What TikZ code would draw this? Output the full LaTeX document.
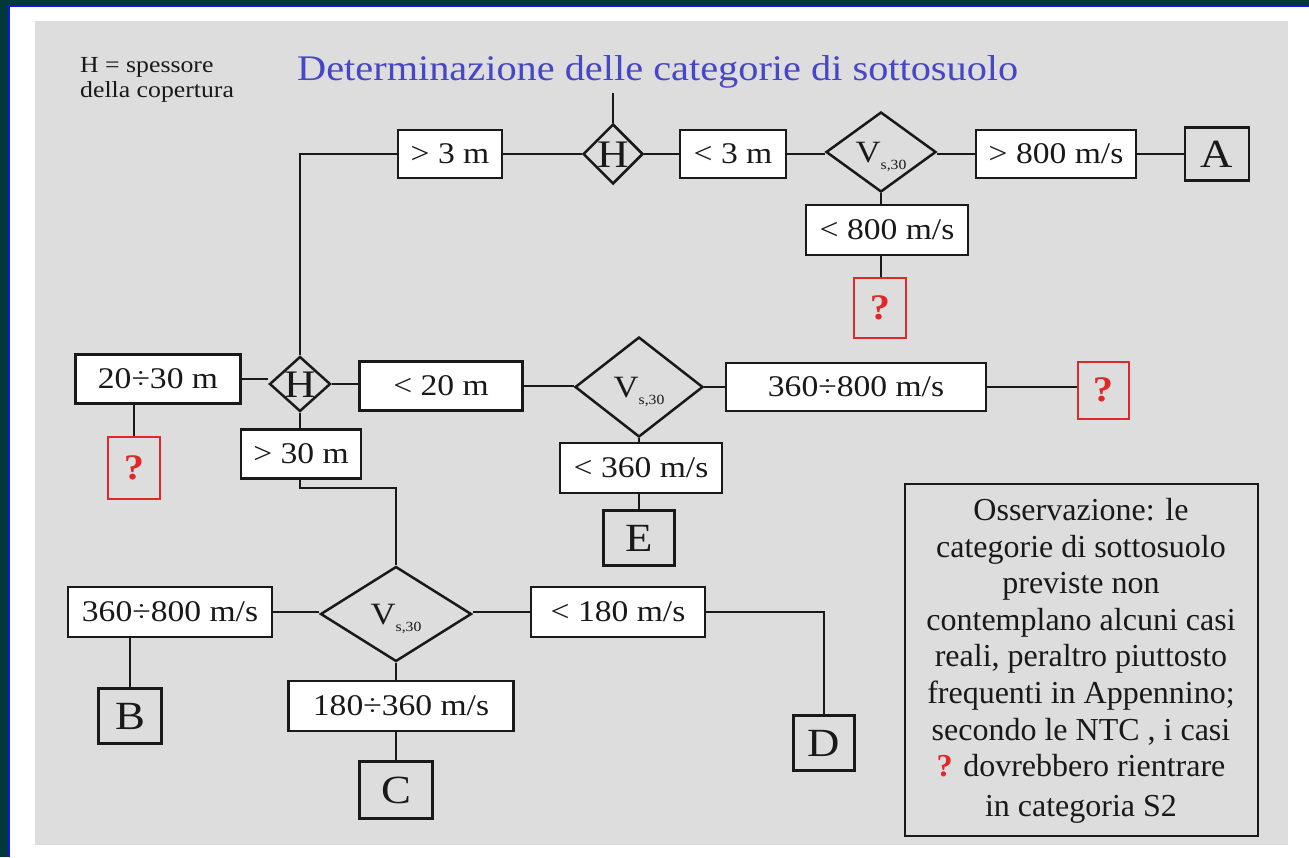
\documentclass[tikz,border=0pt]{standalone}
\usepackage{fontspec}
\setmainfont{Liberation Serif}[FakeStretch=1.12]
\newfontfamily\obsfont{Liberation Serif}
\usetikzlibrary{shapes.geometric}
\definecolor{panel}{RGB}{221,221,221}
\definecolor{frame}{RGB}{0,56,60}
\definecolor{frameblue}{RGB}{20,20,240}
\definecolor{ttl}{RGB}{70,70,200}
\definecolor{ink}{RGB}{25,25,25}
\definecolor{qred}{RGB}{225,40,40}
\newcommand{\vsth}{\smash{\makebox[0pt]{\raisebox{-10pt}{\fontsize{31}{31}\selectfont V\raisebox{-7pt}{\fontsize{14}{14}\selectfont s,30}}}}}
\newcommand{\hdia}{\smash{\makebox[0pt]{\raisebox{-13pt}{\fontsize{39}{39}\selectfont H}}}}
\tikzset{
  lbl/.style={draw=ink, fill=white, line width=2.2pt, inner sep=0pt, font=\fontsize{30}{36}\selectfont, text=ink},
  cat/.style={draw=ink, line width=2.2pt, inner sep=0pt, font=\fontsize{40}{44}\selectfont, text=ink},
  qbox/.style={draw=qred, line width=2pt, inner sep=0pt, font=\bfseries\fontsize{36}{40}\selectfont, text=qred},
  dia/.style={diamond, draw=ink, line width=2.5pt, inner sep=0pt, text=ink},
  wire/.style={draw=ink, line width=2.2pt},
}
\begin{document}
\begin{tikzpicture}[x=1pt,y=-1pt]
\useasboundingbox (0,0) rectangle (1309,857);
\fill[white] (0,0) rectangle (1309,857);
\fill[frame] (0,0) rectangle (1309,5.7);
\fill[frame] (0,0) rectangle (8.3,857);
\fill[frameblue] (8.3,5.7) rectangle (1309,7.3);
\fill[frameblue] (8.3,5.7) rectangle (10,857);
\fill[panel] (35,21) rectangle (1288,845);

% texts
\node[anchor=base west, inner sep=0pt, text=ttl, font=\fontsize{36}{40}\selectfont] (title) at (297,80) {Determinazione delle categorie di sottosuolo};
\node[anchor=base west, inner sep=0pt, text=ink, font=\fontsize{23}{26}\selectfont] (leg1) at (80,72) {H = spessore};
\node[anchor=base west, inner sep=0pt, text=ink, font=\fontsize{23}{26}\selectfont] (leg2) at (80,97) {della copertura};

% top row
\node[lbl, minimum width=104pt, minimum height=48pt] (gt3) at (450,154) {> 3 m};
\node[dia, minimum width=60pt, minimum height=60pt] (H1) at (613,154) {\hdia};
\node[lbl, minimum width=106pt, minimum height=48pt] (lt3) at (733,154) {< 3 m};
\node[dia, minimum width=110pt, minimum height=80pt] (V1) at (881,152) {\vsth};
\node[lbl, minimum width=160pt, minimum height=48pt] (gt800) at (1056,154) {> 800 m/s};
\node[cat, minimum width=64pt, minimum height=53pt] (A) at (1217,154) {A};
\node[lbl, minimum width=162pt, minimum height=50pt] (lt800) at (887,230) {< 800 m/s};
\node[qbox, minimum width=52pt, minimum height=60pt] (q1) at (880,308) {?};
\coordinate (stub) at (613,93);

% middle row
\node[lbl, minimum width=165pt, minimum height=49pt] (r2030) at (158,379) {20÷30 m};
\node[dia, minimum width=61pt, minimum height=55pt] (H2) at (300,384) {\hdia};
\node[lbl, minimum width=163pt, minimum height=49pt] (lt20) at (441,386) {< 20 m};
\node[dia, minimum width=128pt, minimum height=100pt] (V2) at (639,387) {\vsth};
\node[lbl, minimum width=260pt, minimum height=48pt] (r360800a) at (856,387) {360÷800 m/s};
\node[qbox, minimum width=51pt, minimum height=57pt] (q2) at (1103,390) {?};
\node[lbl, minimum width=162pt, minimum height=50pt] (lt360) at (641,468) {< 360 m/s};
\node[cat, minimum width=71pt, minimum height=55pt] (E) at (639,538) {E};
\node[qbox, minimum width=52pt, minimum height=62pt] (q3) at (134,468) {?};
\node[lbl, minimum width=120pt, minimum height=49pt] (gt30) at (301,454) {> 30 m};

% bottom row
\node[lbl, minimum width=204pt, minimum height=50pt] (r360800b) at (170,612) {360÷800 m/s};
\node[dia, minimum width=151pt, minimum height=95pt] (V3) at (396,614) {\vsth};
\node[lbl, minimum width=174pt, minimum height=50pt] (lt180) at (618,612) {< 180 m/s};
\node[cat, minimum width=61pt, minimum height=55pt] (D) at (824,743) {D};
\node[cat, minimum width=63pt, minimum height=55pt] (B) at (130,716) {B};
\node[lbl, minimum width=225pt, minimum height=50pt] (r180360) at (401,706) {180÷360 m/s};
\node[cat, minimum width=73pt, minimum height=57pt] (C) at (396,790) {C};

% observation
\node[draw=ink, line width=2pt, minimum width=353pt, minimum height=352pt] (obsbox) at (1081,659.5) {};
\node[anchor=north, inner sep=0pt, align=center, text=ink, font=\obsfont\fontsize{32}{36.6}\selectfont] (obs) at (1081,498)
{Osservazione: le\\ categorie di sottosuolo\\ previste non\\ contemplano alcuni casi\\ reali, peraltro piuttosto\\ frequenti in Appennino;\\ secondo le NTC , i casi\\ {\color{qred}\bfseries ?} dovrebbero rientrare\\[3.5pt] in categoria S2};

% connectors
\draw[wire] (H1.north) -- (stub);
\draw[wire] (H2.north) |- (gt3.west);
\draw[wire] (gt3.east) -- (H1.west);
\draw[wire] (H1.east) -- (lt3.west);
\draw[wire] (lt3.east) -- (V1.west |- lt3.east);
\draw[wire] (V1.east |- gt800.west) -- (gt800.west);
\draw[wire] (gt800.east) -- (A.west);
\draw[wire] (V1.south) -- (V1.south |- lt800.north);
\draw[wire] (V1.south |- lt800.south) -- (V1.south |- q1.north);

\draw[wire] (r2030.east) -- (H2.west |- r2030.east);
\draw[wire] (H2.east) -- (H2.east -| lt20.west);
\draw[wire] (lt20.east) -- (V2.west |- lt20.east);
\draw[wire] (V2.east |- r360800a.west) -- (r360800a.west);
\draw[wire] (r360800a.east) -- (q2.west |- r360800a.east);
\draw[wire] (q3.north |- r2030.south) -- (q3.north);
\draw[wire] (H2.south) -- (H2.south |- gt30.north);
\draw[wire] (H2.south |- gt30.south) -- ++(0,8) -| (V3.north);
\draw[wire] (V2.south) -- (V2.south |- lt360.north);
\draw[wire] (V2.south |- lt360.south) -- (V2.south |- E.north);

\draw[wire] (r360800b.east) -- (V3.west |- r360800b.east);
\draw[wire] (V3.east |- lt180.west) -- (lt180.west);
\draw[wire] (lt180.east) -| (D.north);
\draw[wire] (B.north |- r360800b.south) -- (B.north);
\draw[wire] (V3.south) -- (V3.south |- r180360.north);
\draw[wire] (C.north |- r180360.south) -- (C.north);
\end{tikzpicture}
\end{document}
